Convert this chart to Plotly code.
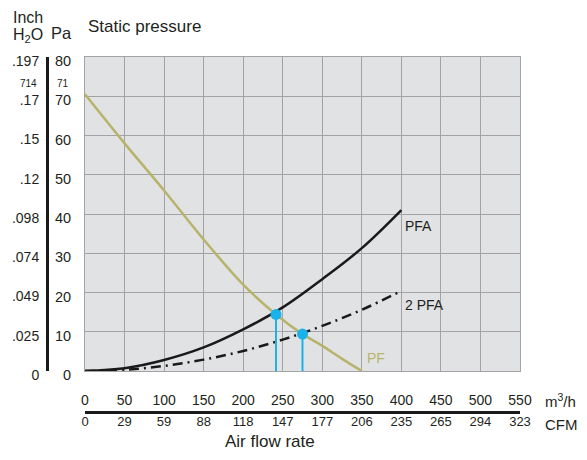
import plotly.graph_objects as go

# ---- data ----
PF_X = [0, 50, 100, 150, 200, 241.5, 275, 300, 325, 350]
PF_Y = [70.5, 58, 46, 33.5, 22, 14.4, 9.4, 6.4, 3.1, 0]

PFA_X = [0, 50, 100, 150, 200, 250, 300, 350, 400]
PFA_Y = [0, 0.7, 2.8, 6.0, 10.6, 16.2, 23.4, 31.3, 41.0]

PFA2_X = [0, 50, 100, 150, 200, 250, 300, 350, 400]
PFA2_Y = [0, 0.3, 1.3, 2.9, 5.1, 8.0, 11.5, 15.6, 20.4]

OP_X = [241.5, 275]
OP_Y = [14.4, 9.4]

M3H_TICKS = [0, 50, 100, 150, 200, 250, 300, 350, 400, 450, 500, 550]
CFM_LABELS = ["0", "29", "59", "88", "118", "147", "177", "206", "235", "265", "294", "323"]
PA_TICKS = [0, 10, 20, 30, 40, 50, 60, 70, 80]
INCH_LABELS = ["0", ".025", ".049", ".074", ".098", ".12", ".15", ".17", ".197"]

# ---- layout geometry (pixels, in window coordinates) ----
OFF = 8                              # page body margin of the browser
W, H = 587 - 2 * OFF, 460 - 2 * OFF  # figure size (no page overflow)
LINE_X, TOP_Y, AXIS_Y = 47, 57, 412
PLOT_L, PLOT_R, PLOT_B = 85, 520, 371
RIGHT = 521

L = LINE_X - OFF
T = TOP_Y - OFF
R = (OFF + W) - RIGHT
B = (OFF + H) - AXIS_Y
PW = W - L - R
PH = H - T - B


def px(x):
    return (x - LINE_X) / PW


def py(y):
    return (AXIS_Y - y) / PH


FONT = "Liberation Sans, Arial, Helvetica, sans-serif"
TXT = "#231f20"
OLIVE = "#b8b36b"
BLUE = "#1ab2ea"

fig = go.Figure()

fig.add_trace(go.Scatter(x=PF_X, y=PF_Y, mode="lines",
                         line=dict(color=OLIVE, width=2.5, shape="spline", smoothing=0.8),
                         hoverinfo="skip"))
fig.add_trace(go.Scatter(x=PFA_X, y=PFA_Y, mode="lines",
                         line=dict(color="#1a1a1a", width=2.5, shape="spline"),
                         hoverinfo="skip"))
fig.add_trace(go.Scatter(x=PFA2_X, y=PFA2_Y, mode="lines",
                         line=dict(color="#1a1a1a", width=2.5, shape="spline",
                                   dash="10px,5px,2px,5px"),
                         hoverinfo="skip"))
for ox, oy in zip(OP_X, OP_Y):
    fig.add_trace(go.Scatter(x=[ox, ox], y=[0, oy], mode="lines",
                             line=dict(color=BLUE, width=2), hoverinfo="skip"))
fig.add_trace(go.Scatter(x=OP_X, y=OP_Y, mode="markers",
                         marker=dict(color=BLUE, size=11), hoverinfo="skip"))

# dummy traces so the overlay axes are drawn
fig.add_trace(go.Scatter(x=[0], y=[0], xaxis="x2", yaxis="y", mode="markers",
                         marker=dict(opacity=0), hoverinfo="skip"))
fig.add_trace(go.Scatter(x=[0], y=[0], xaxis="x3", yaxis="y", mode="markers",
                         marker=dict(opacity=0), hoverinfo="skip"))
fig.add_trace(go.Scatter(x=[0], y=[0], xaxis="x", yaxis="y2", mode="markers",
                         marker=dict(opacity=0), hoverinfo="skip"))

xdom = [px(PLOT_L), min(1, px(PLOT_R))]
ydom = [py(PLOT_B), 1]

fig.update_layout(
    width=W, height=H,
    margin=dict(l=L, r=R, t=T, b=B, pad=0, autoexpand=False),
    paper_bgcolor="white",
    plot_bgcolor="#e1e2e4",
    showlegend=False,
    font=dict(family=FONT, color=TXT, size=14),
    xaxis=dict(domain=xdom, range=[0, 550], dtick=50, tick0=0, automargin=False,
               showgrid=True, gridcolor="#a3a3a5", gridwidth=1,
               showline=True, linecolor="#a3a3a5", linewidth=1, mirror=True,
               showticklabels=False, ticks="", zeroline=False, fixedrange=True),
    yaxis=dict(domain=ydom, range=[0, 80], tickvals=PA_TICKS, automargin=False,
               showgrid=True, gridcolor="#a3a3a5", gridwidth=1,
               showline=True, linecolor="#a3a3a5", linewidth=1, mirror=True,
               ticks="", ticklabelstandoff=10, ticklabelshift=4,
               tickfont=dict(size=14.5, color=TXT),
               zeroline=False, fixedrange=True),
    xaxis2=dict(overlaying="x", anchor="free", position=0, side="top",
                range=[0, 550], tickvals=M3H_TICKS, automargin=False,
                ticktext=[str(v) for v in M3H_TICKS],
                showgrid=False, zeroline=False, ticks="",
                showline=True, linecolor="#1a1a1a", linewidth=3,
                tickfont=dict(size=14, color=TXT), fixedrange=True),
    xaxis3=dict(overlaying="x", anchor="free", position=0, side="bottom",
                range=[0, 550], tickvals=M3H_TICKS, ticktext=CFM_LABELS,
                automargin=False,
                showgrid=False, zeroline=False, ticks="", showline=False,
                tickfont=dict(size=13, color=TXT), fixedrange=True),
    yaxis2=dict(overlaying="y", anchor="free", position=0, side="left",
                range=[0, 80], tickvals=PA_TICKS, ticktext=INCH_LABELS,
                automargin=False,
                showgrid=False, zeroline=False, ticks="",
                showline=True, linecolor="#1a1a1a", linewidth=3,
                ticklabelstandoff=4, ticklabelshift=4,
                tickfont=dict(size=14, color=TXT), fixedrange=True),
)


def note(text, x, y, size=17, xanchor="left", yanchor="middle", color=TXT,
         xref="paper", yref="paper"):
    fig.add_annotation(text=text, x=x, y=y, xref=xref, yref=yref,
                       xanchor=xanchor, yanchor=yanchor, showarrow=False,
                       font=dict(size=size, color=color, family=FONT))


note("Inch", px(11), py(18), size=16)
note("H<sub>2</sub>O", px(11), py(35), size=16)
note("Pa", px(49), py(33), size=16.5)
note("Static pressure", px(86), py(27))
note("m<sup>3</sup>/h", px(543), py(400), size=15)
note("CFM", px(543), py(424), size=15)
note("Air flow rate", px(270), py(442), xanchor="center")
note("714", px(39), 73.2, size=10, xanchor="right", yref="y")
note("71", px(71), 73.2, size=10, xanchor="right", yref="y")

note("PFA", 402, 36.9, size=14, xref="x", yref="y")
note("2 PFA", 402, 16.8, size=14, xref="x", yref="y")
note("PF", 354, 3.2, size=14, xref="x", yref="y", color=OLIVE)

fig.write_html("out.html")
